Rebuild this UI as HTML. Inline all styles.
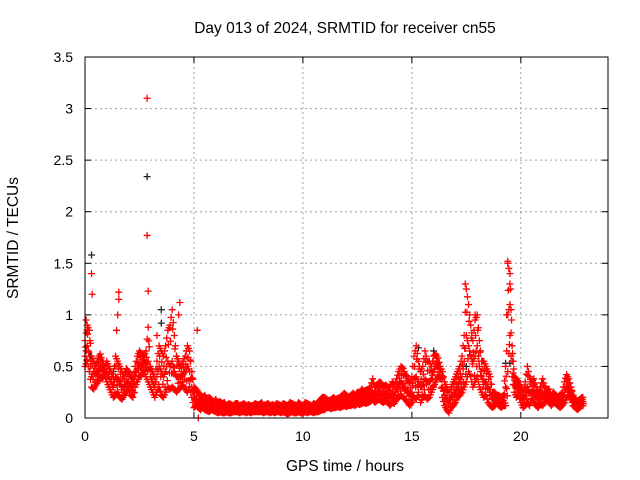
<!DOCTYPE html>
<html><head><meta charset="utf-8"><style>
html,body{margin:0;padding:0;background:#fff;}
svg{display:block;font-family:"Liberation Sans",sans-serif;}
</style></head><body>
<svg id="chart" width="640" height="480" xmlns="http://www.w3.org/2000/svg">
<text x="345" y="33" text-anchor="middle" font-size="15.5">Day 013 of 2024, SRMTID for receiver cn55</text>
<text x="345" y="471" text-anchor="middle" font-size="15.5">GPS time / hours</text>
<text x="18" y="238" text-anchor="middle" font-size="15.5" transform="rotate(-90 18 238)">SRMTID / TECUs</text>
<g id="grid"></g>
<g id="ticks"></g>
<g id="marks"></g>
<rect x="85" y="57" width="523" height="361" fill="none" stroke="#000" stroke-width="1"/>
</svg>
<script>
const xTicks=[0,5,10,15,20];
const yTicks=[0,0.5,1,1.5,2,2.5,3,3.5];
const yTickLabels=["0","0.5","1","1.5","2","2.5","3","3.5"];
const tStart=0, tStep=0.1;
const seriesLo=[.50,.55,.45,.30,.28,.32,.35,.40,.38,.42,
.35,.30,.25,.20,.22,.25,.20,.18,.22,.25,
.28,.22,.20,.30,.35,.40,.42,.45,.40,.35,
.30,.25,.20,.25,.30,.22,.20,.25,.30,.28,
.30,.28,.25,.28,.30,.32,.28,.25,.30,.20,
.10,.12,.10,.08,.10,.08,.07,.06,.08,.07,
.06,.05,.06,.05,.05,.06,.05,.05,.06,.06,
.06,.05,.06,.06,.05,.06,.05,.06,.06,.06,
.06,.06,.05,.06,.06,.05,.06,.05,.06,.06,
.05,.06,.05,.04,.05,.06,.05,.05,.06,.05,
.05,.06,.05,.06,.06,.05,.06,.06,.07,.08,
.08,.10,.10,.09,.10,.10,.11,.10,.11,.12,
.11,.12,.12,.13,.12,.14,.13,.14,.15,.14,
.15,.16,.18,.15,.17,.18,.16,.15,.17,.15,
.12,.15,.14,.18,.20,.22,.20,.18,.15,.12,
.15,.20,.18,.25,.15,.20,.22,.18,.20,.25,
.30,.35,.40,.38,.20,.12,.08,.05,.10,.12,
.15,.20,.22,.25,.30,.35,.45,.40,.30,.35,
.40,.30,.25,.20,.22,.15,.12,.10,.12,.15,
.12,.10,.12,.12,.45,.80,.40,.25,.20,.22,
.15,.10,.12,.15,.12,.18,.15,.12,.10,.14,
.12,.15,.18,.15,.12,.15,.14,.12,.10,.12,
.15,.20,.22,.18,.12,.10,.08,.10,.12];
const seriesHi=[.75,.90,.85,.60,.55,.50,.58,.62,.55,.50,
.55,.50,.45,.40,.60,.55,.50,.45,.40,.48,
.45,.40,.38,.50,.60,.65,.62,.60,.65,.88,
.50,.45,.40,.55,.70,.65,.60,.70,.85,.90,
1.05,.80,.60,.55,.50,.55,.60,.70,.65,.45,
.30,.28,.25,.22,.20,.22,.18,.20,.18,.15,
.18,.15,.16,.14,.15,.12,.14,.13,.12,.14,
.14,.12,.13,.14,.12,.13,.12,.12,.14,.13,
.13,.15,.12,.13,.14,.12,.13,.12,.14,.13,
.12,.14,.13,.12,.15,.14,.13,.12,.15,.13,
.12,.15,.14,.13,.12,.14,.13,.15,.18,.20,
.20,.18,.17,.18,.20,.18,.19,.20,.22,.24,
.22,.20,.22,.24,.22,.25,.24,.28,.26,.27,
.28,.30,.38,.30,.32,.35,.34,.30,.32,.30,
.30,.35,.32,.38,.45,.50,.48,.42,.40,.35,
.40,.60,.70,.55,.45,.50,.65,.55,.55,.50,
.60,.62,.58,.50,.45,.35,.30,.25,.30,.35,
.40,.45,.50,.60,.80,1.25,1.10,.90,.75,.95,
1.0,.75,.55,.55,.50,.45,.40,.25,.25,.22,
.22,.20,.22,.50,1.50,1.40,.70,.40,.38,.35,
.30,.25,.35,.50,.40,.35,.38,.30,.25,.30,
.38,.30,.28,.28,.22,.25,.22,.20,.22,.25,
.35,.42,.38,.30,.22,.18,.16,.18,.20];
const seriesMid=[.60,.70,.60,.40,.45,.42,.45,.50,.48,.45,
.45,.40,.35,.30,.40,.38,.35,.30,.30,.35,
.35,.30,.30,.40,.48,.52,.50,.55,.52,.55,
.40,.35,.30,.40,.50,.45,.40,.45,.55,.50,
.55,.45,.40,.40,.40,.42,.45,.50,.45,.30,
.20,.18,.15,.14,.15,.14,.12,.12,.12,.10,
.10,.10,.11,.09,.10,.09,.09,.10,.09,.10,
.10,.09,.09,.10,.09,.10,.09,.09,.10,.09,
.09,.10,.09,.09,.10,.09,.09,.10,.09,.10,
.09,.09,.08,.08,.10,.09,.09,.08,.10,.09,
.09,.10,.09,.09,.09,.10,.09,.10,.12,.13,
.14,.14,.13,.13,.15,.14,.15,.15,.16,.17,
.16,.16,.17,.18,.17,.19,.18,.20,.20,.20,
.20,.22,.25,.22,.24,.25,.24,.22,.23,.22,
.20,.24,.22,.28,.32,.35,.32,.28,.26,.22,
.25,.38,.40,.35,.30,.32,.38,.35,.35,.38,
.45,.50,.50,.45,.30,.22,.18,.15,.20,.22,
.25,.30,.35,.40,.55,.80,.70,.60,.55,.60,
.70,.50,.40,.35,.35,.30,.25,.18,.18,.18,
.18,.15,.17,.30,1.0,1.10,.55,.32,.30,.28,
.22,.18,.22,.30,.25,.25,.26,.22,.18,.22,
.22,.22,.22,.20,.17,.19,.18,.16,.15,.18,
.25,.30,.30,.24,.16,.14,.12,.14,.16];
const outlierT=[0.3,0.33,0.05,0.1,2.85,2.85,2.9,1.55,1.55,1.5,1.45,4.35,4.3,5.2,5.15,3.3,17.45,17.9,19.4,19.5];
const outlierV=[1.4,1.2,0.95,0.85,3.1,1.77,1.23,1.22,1.15,1.0,0.85,1.12,1.0,0.0,0.85,0.8,1.3,1.0,1.52,1.3];
const blackT=[0.3,0.25,2.85,3.5,3.5,4.2,15.3,16.0,19.3,19.5,17.5,1.3];
const blackV=[1.58,0.6,2.34,1.05,0.92,0.6,0.68,0.65,0.53,0.53,0.5,0.45];

const X0=85,X1=608,Y0=418,Y1=57,XMAX=24,YMAX=3.5;
const xs=t=>X0+(X1-X0)*t/XMAX;
const ys=v=>Y0-(Y0-Y1)*v/YMAX;
const NS="http://www.w3.org/2000/svg";
function mk(tag,attrs,parent){const e=document.createElementNS(NS,tag);for(const k in attrs)e.setAttribute(k,attrs[k]);parent.appendChild(e);return e;}
const grid=document.getElementById('grid'),ticks=document.getElementById('ticks'),marks=document.getElementById('marks');
xTicks.forEach(t=>{
  const x=xs(t);
  if(t>0){const g=mk('line',{x1:x,x2:x,y1:Y1,y2:Y0,stroke:'#a0a0a0','stroke-dasharray':'2,3'},grid);
  
  }
  mk('line',{x1:x,x2:x,y1:Y0,y2:Y0-6,stroke:'#000'},ticks);
  mk('line',{x1:x,x2:x,y1:Y1,y2:Y1+6,stroke:'#000'},ticks);
  const l=mk('text',{x:x,y:Y0+23,'text-anchor':'middle','font-size':'14'},ticks);
  l.textContent=String(t);
  
  
});
yTicks.forEach((v,i)=>{
  const y=ys(v);
  if(v>0&&v<YMAX){const g=mk('line',{x1:X0,x2:X1,y1:y,y2:y,stroke:'#a0a0a0','stroke-dasharray':'2,3'},grid);
  
  }
  mk('line',{x1:X0,x2:X0+6,y1:y,y2:y,stroke:'#000'},ticks);
  mk('line',{x1:X1,x2:X1-6,y1:y,y2:y,stroke:'#000'},ticks);
  const l=mk('text',{x:X0-12,y:y+5,'text-anchor':'end','font-size':'14'},ticks);
  l.textContent=yTickLabels[i];
  
  
});
function cross(t,v,color,name){
  const x=xs(t),y=ys(v);
  const p=mk('path',{d:`M${x-3.5},${y}h7M${x},${y-3.5}v7`,stroke:color,'stroke-width':'1.3',fill:'none'},marks);
  
  
}
blackT.forEach((t,i)=>cross(t,blackV[i],'#222','point-black'));
[seriesLo,seriesMid,seriesHi].forEach(arr=>{
  arr.forEach((v,i)=>{
    const t=tStart+i*tStep;
    cross(t,v,'#ff0000','point-red');
    const next=i+1<arr.length?arr[i+1]:v;
    cross(t+tStep/2,(v+next)/2,'#ff0000','point-red');
  });
});
seriesLo.forEach((lo,i)=>{
  const hi=seriesHi[i],t=tStart+i*tStep;
  cross(t+tStep*0.25,lo+(hi-lo)*0.75,'#ff0000','point-red');
  cross(t+tStep*0.75,lo+(hi-lo)*0.25,'#ff0000','point-red');
});
outlierT.forEach((t,i)=>cross(t,outlierV[i],'#ff0000','point-red-outlier'));
</script>
</body></html>
